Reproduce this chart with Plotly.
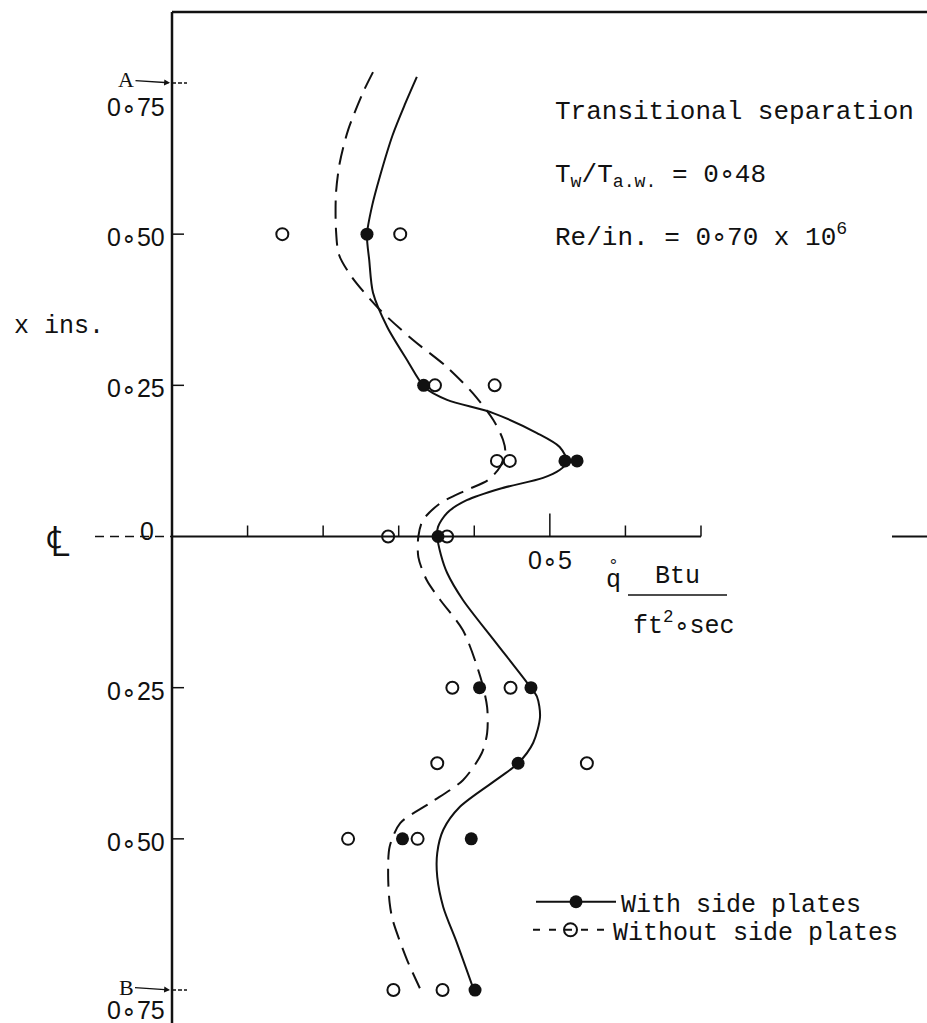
import plotly.graph_objects as go

# Canvas size in pixels
W, H = 927, 1023

# Heat-transfer rate q (Btu/ft^2 sec) against spanwise distance x (ins)
# from the centre line; positive x runs towards A, negative towards B.

# Measured points, with side plates (filled symbols)
with_x = [0.50, 0.25, 0.125, 0.125, 0.0, -0.25, -0.25, -0.375, -0.50, -0.50, -0.75]
with_q = [0.258, 0.333, 0.520, 0.536, 0.352, 0.407, 0.475, 0.458, 0.305, 0.396, 0.401]

# Measured points, without side plates (open symbols)
without_x = [0.50, 0.50, 0.25, 0.25, 0.125, 0.125, 0.0, 0.0,
             -0.25, -0.25, -0.375, -0.375, -0.50, -0.50, -0.75, -0.75]
without_q = [0.146, 0.302, 0.348, 0.427, 0.430, 0.447, 0.286, 0.364,
             0.371, 0.448, 0.351, 0.549, 0.233, 0.325, 0.293, 0.358]

# Faired curve, with side plates
with_curve_x = [0.760, 0.714, 0.664, 0.595, 0.548, 0.499, 0.457, 0.403, 0.346, 0.292,
                0.246, 0.226, 0.204, 0.171, 0.148, 0.123, 0.110, 0.097, 0.079, 0.060,
                0.039, 0.016, 0.0, -0.031, -0.060, -0.105, -0.173, -0.242, -0.265,
                -0.298, -0.341, -0.375, -0.398, -0.447, -0.485, -0.523, -0.563,
                -0.613, -0.672, -0.745]
with_curve_q = [0.324, 0.308, 0.292, 0.275, 0.265, 0.258, 0.261, 0.266, 0.285, 0.311,
                0.335, 0.364, 0.425, 0.483, 0.513, 0.523, 0.513, 0.491, 0.434, 0.390,
                0.364, 0.352, 0.351, 0.356, 0.364, 0.385, 0.427, 0.470, 0.483,
                0.487, 0.478, 0.458, 0.434, 0.381, 0.359, 0.351, 0.351,
                0.359, 0.377, 0.398]

# Faired curve, without side plates
without_curve_x = [0.768, 0.735, 0.672, 0.618, 0.568, 0.507, 0.466, 0.429, 0.375, 0.325,
                   0.280, 0.237, 0.193, 0.160, 0.140, 0.115, 0.093, 0.077, 0.055, 0.027,
                   0.0, -0.034, -0.072, -0.105, -0.155, -0.232, -0.282, -0.325, -0.358,
                   -0.403, -0.441, -0.474, -0.513, -0.560, -0.606, -0.634, -0.700, -0.747]
without_curve_q = [0.266, 0.253, 0.233, 0.222, 0.217, 0.217, 0.221, 0.238, 0.275, 0.319,
                   0.364, 0.398, 0.425, 0.438, 0.441, 0.434, 0.418, 0.390, 0.355, 0.332,
                   0.326, 0.326, 0.337, 0.355, 0.385, 0.408, 0.417, 0.417, 0.410,
                   0.385, 0.341, 0.302, 0.288, 0.286, 0.288, 0.292, 0.311, 0.328]

# Axis ticks and labels
q_ticks = [0.1, 0.2, 0.3, 0.4, 0.5, 0.6, 0.7]
q_label_value = 0.5
q_label_text = "0∘5"
x_ticks = [0.75, 0.50, 0.25, -0.25, -0.50, -0.75]
x_tick_text = ["0∘75", "0∘50", "0∘25", "0∘25", "0∘50", "0∘75"]
end_markers = ["A", "B"]

# Pixel scale of the drawing: origin at (172, 536.5), 755.7 px per unit q, 604.7 px per inch
X0, Y0, SQ, SX = 172.0, 536.5, 755.7, 604.7
q_range = [-X0 / SQ, (W - X0) / SQ]
x_range = [(Y0 - H) / SX, Y0 / SX]
x_top = (Y0 - 12) / SX


def px(p):
    return p / W


def py(p):
    return 1 - p / H


MONO = "Liberation Mono"
SANS = "Liberation Sans"
INK = "#111111"

fig = go.Figure()

fig.add_trace(go.Scatter(
    x=without_curve_q, y=without_curve_x, mode="lines",
    line=dict(color=INK, width=2, dash="18px,9px", shape="spline", smoothing=0.8),
    showlegend=False, hoverinfo="skip"))
fig.add_trace(go.Scatter(
    x=with_curve_q, y=with_curve_x, mode="lines",
    line=dict(color=INK, width=2, shape="spline", smoothing=0.8),
    showlegend=False, hoverinfo="skip"))
fig.add_trace(go.Scatter(
    x=without_q, y=without_x, mode="markers",
    marker=dict(symbol="circle-open", size=12, color=INK, line=dict(width=2)),
    showlegend=False))
fig.add_trace(go.Scatter(
    x=with_q, y=with_x, mode="markers",
    marker=dict(symbol="circle", size=13, color=INK),
    showlegend=False))

# Legend entries
fig.add_trace(go.Scatter(
    x=[None], y=[None], mode="lines+markers", name="With side plates",
    line=dict(color=INK, width=2),
    marker=dict(symbol="circle", size=13, color=INK), legend="legend"))
fig.add_trace(go.Scatter(
    x=[None], y=[None], mode="lines+markers", name="Without side plates",
    line=dict(color=INK, width=2, dash="7px,9px"),
    marker=dict(symbol="circle-open", size=13, color=INK, line=dict(width=2)),
    legend="legend2"))

shapes = []
# vertical axis and top frame line
shapes.append(dict(type="line", xref="x", yref="y", x0=0, x1=0, y0=x_range[0], y1=x_top,
                   line=dict(color=INK, width=2.5)))
shapes.append(dict(type="line", xref="x", yref="y", x0=0, x1=q_range[1], y0=x_top, y1=x_top,
                   line=dict(color=INK, width=2.5)))
# centre line
shapes.append(dict(type="line", xref="x", yref="y", x0=0, x1=q_ticks[-1], y0=0, y1=0,
                   line=dict(color=INK, width=2)))
shapes.append(dict(type="line", xref="x", yref="y", x0=(95 - X0) / SQ, x1=0, y0=0, y1=0,
                   line=dict(color=INK, width=1.5, dash="9px,6px")))
shapes.append(dict(type="line", xref="x", yref="y", x0=(892 - X0) / SQ, x1=q_range[1], y0=0, y1=0,
                   line=dict(color=INK, width=2)))
# q ticks (pointing up from the centre line)
for t in q_ticks:
    h = 23 if t == q_label_value else 11
    shapes.append(dict(type="line", xref="x", yref="y", ysizemode="pixel", yanchor=0,
                       x0=t, x1=t, y0=0, y1=h, line=dict(color=INK, width=1.5)))
# x ticks (pointing right from the vertical axis)
for t in x_ticks:
    end = abs(t) == 0.75
    shapes.append(dict(type="line", xref="x", yref="y", xsizemode="pixel", xanchor=0,
                       x0=0, x1=15 if end else 12, y0=t, y1=t,
                       line=dict(color=INK, width=1.5, dash="4px,2px" if end else "solid")))
# fraction bar of the q units
shapes.append(dict(type="line", xref="paper", yref="paper", x0=px(628), x1=px(727),
                   y0=py(595), y1=py(595), line=dict(color=INK, width=1.5)))

ann = []
for t, s in zip(x_ticks, x_tick_text):
    if t == 0.75:
        dy = -24
    elif t == -0.75:
        dy = -20
    else:
        dy = -3
    ann.append(dict(x=0, y=t, xref="x", yref="y", text=s, showarrow=False,
                    xanchor="right", yanchor="middle", xshift=-5, yshift=dy,
                    font=dict(family=SANS, size=25, color=INK)))
for t, s in zip([0.75, -0.75], end_markers):
    ann.append(dict(x=0, y=t, xref="x", yref="y", text=s, showarrow=True,
                    ax=-46, ay=-3, arrowhead=2, arrowsize=0.9, arrowwidth=1.3,
                    arrowcolor=INK, standoff=2,
                    font=dict(family="Liberation Serif", size=22, color=INK)))
ann.append(dict(x=0, y=0, xref="x", yref="y", text="0", showarrow=False,
                xanchor="right", yanchor="middle", xshift=-16, yshift=6,
                font=dict(family=SANS, size=25, color=INK)))
ann.append(dict(x=q_label_value, y=0, xref="x", yref="y", text=q_label_text, showarrow=False,
                xanchor="center", yanchor="middle", yshift=-23,
                font=dict(family=SANS, size=25, color=INK)))
ann.append(dict(x=px(58), y=py(541), xref="paper", yref="paper", text="℄", showarrow=False,
                xanchor="center", yanchor="middle",
                font=dict(family="DejaVu Sans", size=42, color=INK, weight=200)))
ann.append(dict(x=px(12), y=py(327), xref="paper", yref="paper", text="x ins.", showarrow=False,
                xanchor="left", yanchor="middle", font=dict(family=MONO, size=25, color=INK)))
# q with the ring (rate) mark above it
ann.append(dict(x=px(613), y=py(580), xref="paper", yref="paper", text="q", showarrow=False,
                xanchor="center", yanchor="middle", font=dict(family=MONO, size=25, color=INK)))
ann.append(dict(x=px(613), y=py(566), xref="paper", yref="paper", text="°", showarrow=False,
                xanchor="center", yanchor="middle", font=dict(family=MONO, size=18, color=INK)))
ann.append(dict(x=px(677), y=py(576), xref="paper", yref="paper", text="Btu", showarrow=False,
                xanchor="center", yanchor="middle", font=dict(family=MONO, size=25, color=INK)))
ann.append(dict(x=px(684), y=py(624), xref="paper", yref="paper",
                text="ft<sup>2</sup>∘sec", showarrow=False,
                xanchor="center", yanchor="middle", font=dict(family=MONO, size=25, color=INK)))
ann.append(dict(x=px(553), y=py(112), xref="paper", yref="paper",
                text="Transitional separation", showarrow=False,
                xanchor="left", yanchor="middle", font=dict(family=MONO, size=26, color=INK)))
ann.append(dict(x=px(553), y=py(176), xref="paper", yref="paper",
                text="T<sub>w</sub>/T<sub>a.w.</sub> = 0∘48", showarrow=False,
                xanchor="left", yanchor="middle", font=dict(family=MONO, size=26, color=INK)))
ann.append(dict(x=px(553), y=py(236), xref="paper", yref="paper",
                text="Re/in. = 0∘70 x 10<sup>6</sup>", showarrow=False,
                xanchor="left", yanchor="middle", font=dict(family=MONO, size=26, color=INK)))

legend_style = dict(font=dict(family=MONO, size=25, color=INK), bgcolor="rgba(0,0,0,0)",
                    xanchor="left", yanchor="middle", borderwidth=0)

fig.update_layout(
    width=W, height=H,
    margin=dict(l=0, r=0, t=0, b=0),
    paper_bgcolor="white", plot_bgcolor="white",
    xaxis=dict(range=q_range, visible=False, fixedrange=True),
    yaxis=dict(range=x_range, visible=False, fixedrange=True),
    shapes=shapes, annotations=ann,
    legend=dict(x=px(531), y=py(902), itemwidth=80, **legend_style),
    legend2=dict(x=px(528), y=py(930), itemwidth=75, **legend_style),
)

fig.write_html("out.html")
